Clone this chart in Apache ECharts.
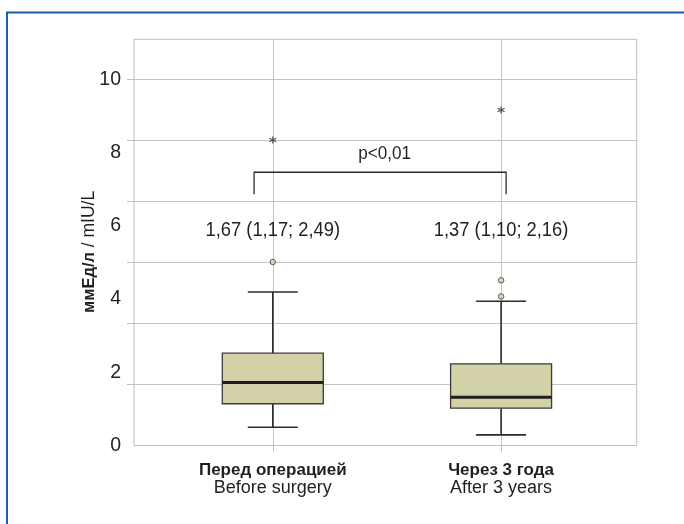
<!DOCTYPE html>
<html>
<head>
<meta charset="utf-8">
<script src="https://cdn.jsdelivr.net/npm/echarts@6/dist/echarts.min.js"></script>
<style>
  html, body { margin: 0; padding: 0; background: #ffffff; }
  #chart { width: 684px; height: 524px; }
</style>
</head>
<body>
<div id="chart"></div>
<script>
// ---- data ----
const categories = ['Перед операцией', 'Через 3 года'];
const categoriesEn = ['Before surgery', 'After 3 years'];
const categoryPos = [1, 2];
const whiskerLow = [0.50, 0.29];
const quartile1 = [1.14, 1.02];
const medians = [1.72, 1.32];
const quartile3 = [2.52, 2.23];
const whiskerHigh = [4.19, 3.94];
const outlierGroup = [1, 2, 2];
const outlierValues = [5.01, 4.07, 4.51];
const extremeGroup = [1, 2];
const extremeValues = [8.34, 9.16];
const summaryLabels = ['1,67 (1,17; 2,49)', '1,37 (1,10; 2,16)'];
const summaryLevel = [5.86, 5.86];
const pValueLabel = 'p<0,01';
const pValuePos = [1.49, 7.96];
const bracketX = [0.918, 2.022];
const bracketY = [6.86, 7.46];
const yTickLabels = [0, 2, 4, 6, 8, 10];
const gridTicks = [1.6667, 3.3333, 5, 6.6667, 8.3333, 10];
const yMax = 11.09;

const textColor = '#231f20';
const gridColor = '#c4c4c4';
const regular = "'Liberation Sans', Arial, sans-serif";

const chart = echarts.init(document.getElementById('chart'), null, { renderer: 'canvas' });

const boxData = categoryPos.map((p, i) => [p, whiskerLow[i], quartile1[i], medians[i], quartile3[i], whiskerHigh[i]]);
const outlierData = outlierGroup.map((g, i) => [g, outlierValues[i]]);
const extremeData = extremeGroup.map((g, i) => [g, extremeValues[i]]);
const summaryData = categoryPos.map((p, i) => [p, summaryLevel[i]]);

const option = {
  animation: false,
  backgroundColor: '#ffffff',
  graphic: [{
    type: 'polyline',
    shape: { points: [[7, 524], [7, 12.5], [684, 12.5]] },
    style: { stroke: '#1d5ea6', lineWidth: 2, fill: null },
    silent: true
  }],
  grid: {
    left: 134, top: 39.3, right: 47.3, bottom: 78.5,
    show: true, borderColor: '#bdbdbd', borderWidth: 1, backgroundColor: 'transparent'
  },
  xAxis: {
    type: 'value', min: 0.392, max: 2.594,
    axisLine: { show: false },
    axisTick: { show: true, customValues: categoryPos, length: 6, lineStyle: { color: '#bdbdbd' } },
    splitLine: { show: true, lineStyle: { color: gridColor, width: 1 } },
    axisLabel: {
      customValues: categoryPos,
      margin: 16,
      formatter: function (v) {
        const i = Math.round(v) - 1;
        return '{b|' + categories[i] + '}\n{n|' + categoriesEn[i] + '}';
      },
      rich: {
        b: { fontFamily: regular, fontWeight: 'bold', fontSize: 17, lineHeight: 18, color: textColor },
        n: { fontFamily: regular, fontSize: 18, lineHeight: 18, color: textColor }
      }
    }
  },
  yAxis: [{
    type: 'value', min: 0, max: yMax, position: 'left',
    axisLine: { show: false },
    axisTick: { show: false },
    splitLine: { show: false },
    axisLabel: {
      customValues: yTickLabels,
      margin: 13, fontFamily: regular, fontSize: 19.5, color: textColor,
      formatter: v => String(Math.round(v))
    },
    name: '{b|ммЕд/л}{n| / mIU/L}',
    nameLocation: 'middle',
    nameGap: 36,
    nameRotate: 90,
    nameMoveOverlap: false,
    nameTextStyle: {
      padding: [0, 19, 0, 0],
      rich: {
        b: { fontFamily: regular, fontWeight: 'bold', fontSize: 16.5, color: textColor },
        n: { fontFamily: regular, fontSize: 17.5, color: textColor }
      }
    }
  }, {
    type: 'value', min: 0, max: yMax, position: 'left', interval: 10 / 6,
    axisLine: { show: false },
    axisTick: { show: true, customValues: gridTicks, length: 7, lineStyle: { color: '#bdbdbd' } },
    axisLabel: { show: false },
    splitLine: { show: true, lineStyle: { color: gridColor, width: 1 } }
  }],
  series: [{
    type: 'custom',
    name: 'box',
    data: boxData,
    encode: { x: 0, y: [1, 2, 3, 4, 5] },
    renderItem: function (params, api) {
      const x = api.value(0);
      const lo = api.coord([x, api.value(1)]);
      const q1 = api.coord([x, api.value(2)]);
      const md = api.coord([x, api.value(3)]);
      const q3 = api.coord([x, api.value(4)]);
      const hi = api.coord([x, api.value(5)]);
      const cx = lo[0];
      const hb = 50.5, hc = 25;
      const ws = { stroke: '#2b2b2b', lineWidth: 1.6 };
      return {
        type: 'group',
        children: [
          { type: 'line', shape: { x1: cx, y1: hi[1], x2: cx, y2: q3[1] }, style: ws },
          { type: 'line', shape: { x1: cx, y1: q1[1], x2: cx, y2: lo[1] }, style: ws },
          { type: 'line', shape: { x1: cx - hc, y1: hi[1], x2: cx + hc, y2: hi[1] }, style: ws },
          { type: 'line', shape: { x1: cx - hc, y1: lo[1], x2: cx + hc, y2: lo[1] }, style: ws },
          { type: 'rect', shape: { x: cx - hb, y: q3[1], width: 2 * hb, height: q1[1] - q3[1] },
            style: { fill: '#d3d1a7', stroke: '#3a3a3a', lineWidth: 1.3 } },
          { type: 'line', shape: { x1: cx - hb, y1: md[1], x2: cx + hb, y2: md[1] },
            style: { stroke: '#1e1e1e', lineWidth: 3 } }
        ]
      };
    },
    z: 5
  }, {
    type: 'scatter',
    name: 'outliers',
    data: outlierData,
    symbol: 'circle',
    symbolSize: 5.5,
    itemStyle: { color: '#d3d1a7', borderColor: '#3a3a3a', borderWidth: 1 },
    z: 6
  }, {
    type: 'scatter',
    name: 'extremes',
    data: extremeData,
    symbol: 'path://M0,-10L0,10M-8.66,-5L8.66,5M-8.66,5L8.66,-5',
    symbolSize: 7,
    itemStyle: { color: 'none', borderColor: '#2b2b2b', borderWidth: 1.3 },
    z: 6
  }, {
    type: 'custom',
    name: 'bracket',
    data: [[bracketX[0], bracketY[0], bracketX[1], bracketY[1]]],
    renderItem: function (params, api) {
      const a = api.coord([api.value(0), api.value(1)]);
      const b = api.coord([api.value(0), api.value(3)]);
      const c = api.coord([api.value(2), api.value(3)]);
      const d = api.coord([api.value(2), api.value(1)]);
      return {
        type: 'polyline',
        shape: { points: [a, b, c, d] },
        style: { stroke: '#2b2b2b', lineWidth: 1.3, fill: null }
      };
    },
    z: 6
  }, {
    type: 'custom',
    name: 'pvalue',
    data: [[pValuePos[0], pValuePos[1]]],
    renderItem: function (params, api) {
      const p = api.coord([api.value(0), api.value(1)]);
      return {
        type: 'text', x: p[0], y: p[1], scaleX: 0.9,
        style: { text: pValueLabel, fontFamily: regular, fontSize: 19, fill: textColor, align: 'center', verticalAlign: 'middle' }
      };
    },
    z: 7
  }, {
    type: 'custom',
    name: 'summary',
    data: summaryData,
    renderItem: function (params, api) {
      const p = api.coord([api.value(0), api.value(1)]);
      return {
        type: 'text', x: p[0], y: p[1], scaleX: 0.94,
        style: { text: summaryLabels[params.dataIndex], fontFamily: regular, fontSize: 19.5, fill: textColor, align: 'center', verticalAlign: 'middle' }
      };
    },
    z: 7
  }]
};

chart.setOption(option);
</script>
</body>
</html>
